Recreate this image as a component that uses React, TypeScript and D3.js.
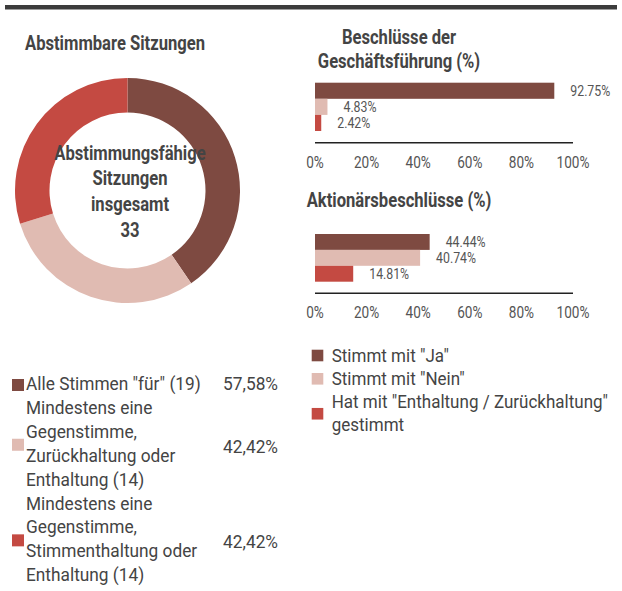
import * as d3 from "d3";

// donut: sessions by voting outcome
const sessionLabels = [
  ['Alle Stimmen "für" (19)'],
  ["Mindestens eine", "Gegenstimme,", "Zurückhaltung oder", "Enthaltung (14)"],
  ["Mindestens eine", "Gegenstimme,", "Stimmenthaltung oder", "Enthaltung (14)"],
];
const sessionCounts = [19, 14, 14];
const sessionShares = ["57,58%", "42,42%", "42,42%"];
const centerLines = ["Abstimmungsfähige", "Sitzungen", "insgesamt", "33"];

// bar charts
const voteLabels = [['Stimmt mit "Ja"'], ['Stimmt mit "Nein"'], ['Hat mit "Enthaltung / Zurückhaltung"', "gestimmt"]];
const managementValues = [92.75, 4.83, 2.42];
const shareholderValues = [44.44, 40.74, 14.81];
const percentTicks = [0, 20, 40, 60, 80, 100];

const colors = ["#7e4a41", "#e0bbb2", "#c44a42"];
const FONT = "Roboto, 'Noto Sans', sans-serif";
const TEXT = "#444";

const x = d3.scaleLinear().domain([0, 100]).range([315, 573]);

// text squeezed horizontally to mimic the condensed face of the original
interface TxtProps {
  x: number;
  y: number;
  size: number;
  sx: number;
  anchor?: string;
  bold?: boolean;
  fill?: string;
  children: string | string[];
}
const Txt = ({ x, y, size, sx, anchor = "start", bold, fill = TEXT, children }: TxtProps) => (
  <text
    transform={`translate(${x},${y}) scale(${sx},1)`}
    textAnchor={anchor}
    fontWeight={bold ? "bold" : "normal"}
    fontSize={size}
    fill={fill}
  >
    {children}
  </text>
);

interface BarProps {
  title: string[];
  titleY: number;
  values: number[];
  top: number;
  bottom: number;
  axisY: number;
}

const BarChart = ({ title, titleY, values, top, bottom, axisY }: BarProps) => {
  const y = d3.scaleBand<number>().domain(d3.range(values.length)).range([top, bottom]);
  return (
    <g>
      {title.map((t, i) => (
        <Txt key={t} x={399} y={titleY + i * 24} size={20.5} sx={0.81} anchor="middle" bold>
          {t}
        </Txt>
      ))}
      {values.map((v, i) => (
        <g key={i}>
          <rect x={x(0)} y={y(i)} width={x(v) - x(0)} height={y.bandwidth()} fill={colors[i]} />
          <Txt x={x(v) + 16} y={(y(i) || 0) + y.bandwidth() / 2 + 5} size={14} sx={0.88} fill="#555">
            {`${v.toFixed(2)}%`}
          </Txt>
        </g>
      ))}
      <line x1={x(0)} x2={x(100)} y1={axisY} y2={axisY} stroke="#222" strokeWidth={1.5} />
      {percentTicks.map((t) => (
        <Txt key={t} x={x(t)} y={axisY + 25} size={16} sx={0.85} anchor="middle" fill="#555">
          {`${t}%`}
        </Txt>
      ))}
    </g>
  );
};

const App = () => {
  const cx = 127.5;
  const cy = 190.5;
  const pie = d3.pie<number>().sort(null)(sessionCounts);
  const arc = d3.arc<d3.PieArcDatum<number>>().innerRadius(78).outerRadius(112.5);

  // left legend rows stack line by line
  const leftLH = 23.9;
  let idx = 0;
  const leftRows = sessionLabels.map((lines) => {
    const first = 390 + idx * leftLH;
    idx += lines.length;
    const last = 390 + (idx - 1) * leftLH;
    return { lines, first, last };
  });

  const rightLH = 23.3;
  let ridx = 0;
  const rightRows = voteLabels.map((lines) => {
    const first = 361.5 + ridx * rightLH;
    ridx += lines.length;
    const last = 361.5 + (ridx - 1) * rightLH;
    return { lines, first, last };
  });

  return (
    <svg
      width={622}
      height={591}
      style={{ position: "absolute", left: 0, top: 0, background: "#fff" }}
      fontFamily={FONT}
    >
      <rect x={5} y={5} width={612} height={4.5} fill="#3c3c3c" />

      <Txt x={25} y={50} size={20.5} sx={0.81} bold>
        Abstimmbare Sitzungen
      </Txt>

      <g transform={`translate(${cx},${cy})`}>
        {pie.map((d, i) => (
          <path key={i} d={arc(d) || ""} fill={colors[i]} />
        ))}
      </g>
      {centerLines.map((t, i) => (
        <Txt key={t} x={130} y={159.5 + i * 25.8} size={20.5} sx={0.81} anchor="middle" bold>
          {t}
        </Txt>
      ))}

      {leftRows.map((r, i) => {
        const mid = (r.first + r.last) / 2;
        return (
          <g key={i}>
            <rect x={12} y={mid - 5 - 6} width={12} height={12} fill={colors[i]} />
            {r.lines.map((l, j) => (
              <Txt key={j} x={26} y={r.first + j * leftLH} size={18.8} sx={0.92}>
                {l}
              </Txt>
            ))}
            <Txt x={278} y={mid + (r.lines.length > 1 ? 3 : 0)} size={18.8} sx={0.92} anchor="end">
              {sessionShares[i]}
            </Txt>
          </g>
        );
      })}

      <BarChart title={["Beschlüsse der", "Geschäftsführung (%)"]} titleY={44} values={managementValues} top={82.7} bottom={131} axisY={142.7} />
      <BarChart title={["Aktionärsbeschlüsse (%)"]} titleY={206.5} values={shareholderValues} top={234} bottom={281.7} axisY={293.3} />

      {rightRows.map((r, i) => {
        const mid = (r.first + r.last) / 2;
        return (
          <g key={i}>
            <rect x={311.7} y={mid - 6 - 5.8} width={11.6} height={11.6} fill={colors[i]} />
            {r.lines.map((l, j) => (
              <Txt key={j} x={331.7} y={r.first + j * rightLH} size={18.5} sx={0.92}>
                {l}
              </Txt>
            ))}
          </g>
        );
      })}
    </svg>
  );
};

export default App;
